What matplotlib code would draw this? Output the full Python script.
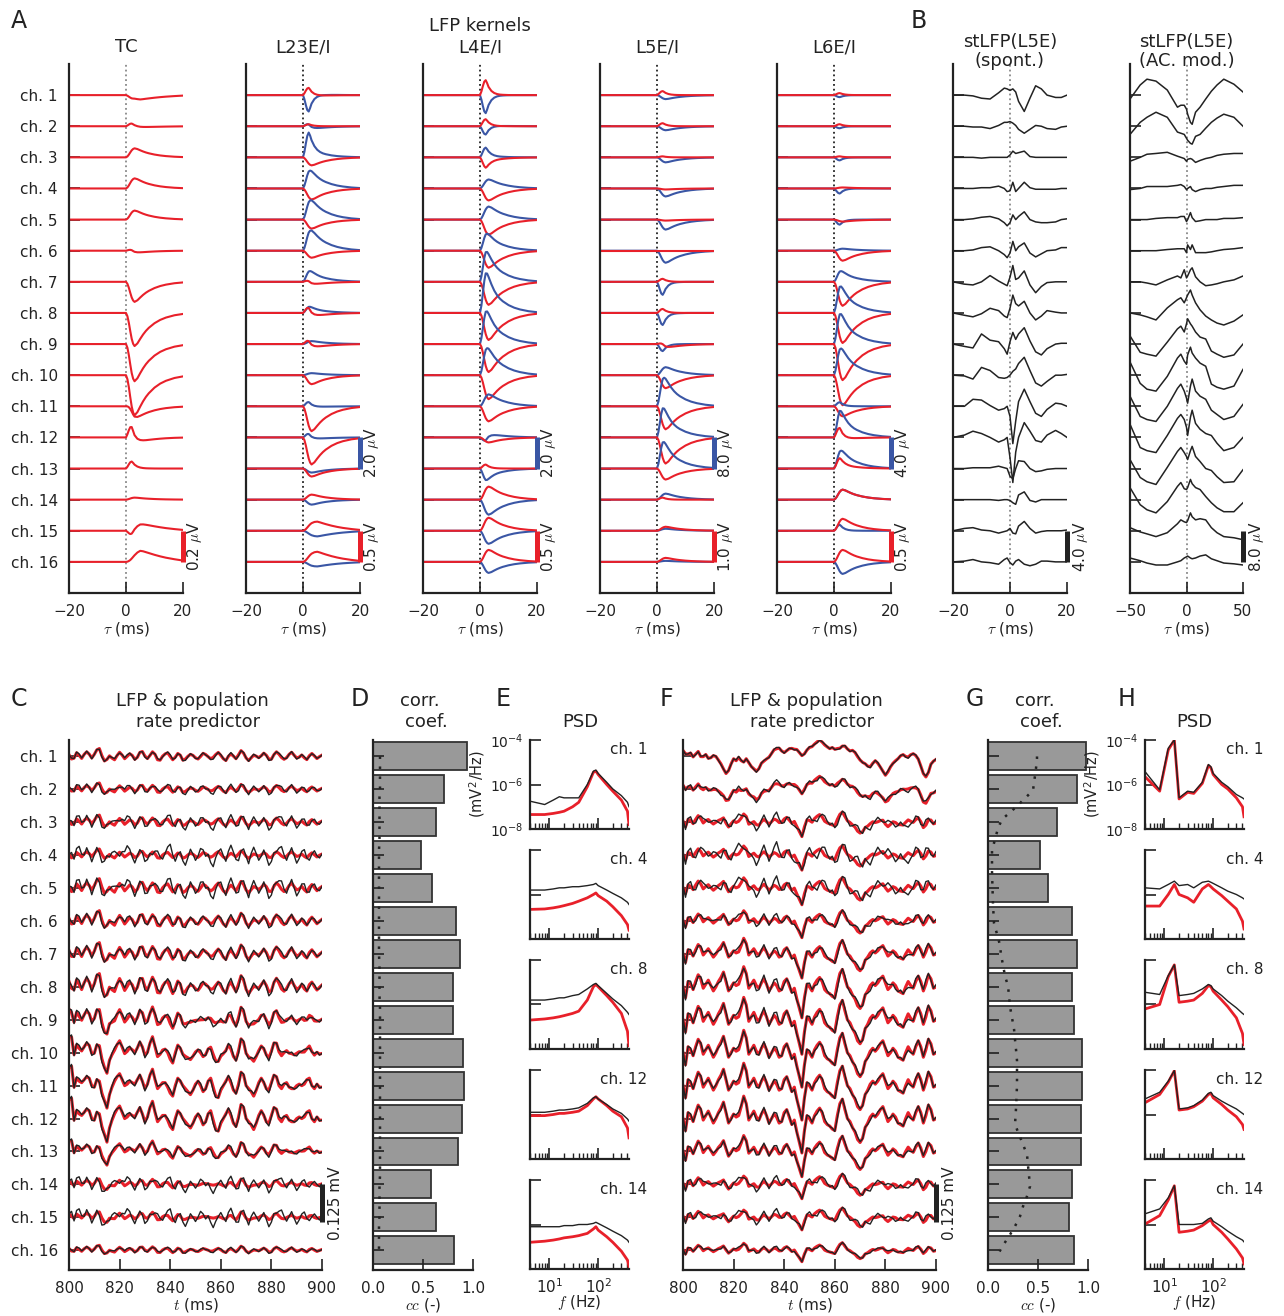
import matplotlib

matplotlib.use("Agg")
import matplotlib.pyplot as plt
import numpy as np
from matplotlib.ticker import NullLocator

plt.rcParams["font.family"] = ["DejaVu Sans"]
plt.rcParams["mathtext.fontset"] = "cm"
plt.rcParams["font.size"] = 11
for key in ["text.color", "axes.labelcolor", "xtick.color", "ytick.color", "axes.edgecolor"]:
    plt.rcParams[key] = "#222222"

RED = "#e8202a"
BLUE = "#3a56a5"
INK = "#222222"

channels = list(range(1, 17))
channel_labels = ["ch. %d" % c for c in channels]

# ---------------- A: LFP kernels (uV) ----------------
kernel_tau = [-20, -1, 0, 0.5, 1, 1.5, 2, 2.5, 3, 4, 5, 6, 7, 8, 10, 12, 14, 17, 20]
fast_shape = [0, 0, 0, 0.25, 0.6, 0.9, 1.0, 0.8, 0.55, 0.28, 0.14, 0.07, 0.035, 0.02, 0.005, 0, 0, 0, 0]
slow_shape = [0, 0, 0, 0.1, 0.3, 0.55, 0.78, 0.93, 1.0, 0.92, 0.78, 0.65, 0.54, 0.45, 0.31, 0.21, 0.14, 0.07, 0.03]
vslow_shape = [0, 0, 0, 0.02, 0.08, 0.17, 0.3, 0.45, 0.6, 0.85, 1.0, 0.96, 0.88, 0.8, 0.64, 0.5, 0.38, 0.24, 0.12]

tc_fast = [-0.013, 0.019, 0, 0, 0, 0.016, 0, 0, 0, 0, 0.032, 0.097, 0.045, 0, -0.032, 0]
tc_slow = [0, 0, 0.058, 0.065, 0.058, -0.016, -0.129, -0.213, -0.239, -0.258, -0.084, -0.039, 0, 0.013, 0, 0]
tc_vslow = [-0.026, -0.006, 0, 0, 0, 0, 0, 0, 0, 0, 0, 0, 0, 0, 0.045, 0.071]

l23_e_fast = [-1.10, 0.26, 1.29, 0.39, 0.26, 0.26, 0.26, 0.19, 0, 0, 0.32, 0.32, 0, 0, 0, 0]
l23_e_slow = [0.06, -0.19, 0.39, 0.90, 1.10, 1.16, 0.52, 0.26, 0.19, 0.13, -0.06, -0.13, -0.26, -0.32, -0.13, -0.13]
l23_e_vslow = [0, 0, 0, 0, 0, 0, 0, 0, 0, 0, 0, 0, 0, 0, -0.26, -0.19]
l23_i_fast = [0.129, 0.032, 0, 0, 0, 0, 0.048, 0.129, 0.097, 0, 0, 0, 0, 0, 0, 0]
l23_i_slow = [-0.016, 0, -0.129, -0.177, -0.145, -0.113, -0.048, -0.064, -0.064, -0.145, -0.40, -0.435, -0.129, 0.081, 0.064, 0.064]
l23_i_vslow = [0, 0, 0, 0, 0, 0, 0, 0, 0, 0, 0, 0, 0, 0, 0.097, 0.113]

l4_e_fast = [-1.16, -0.58, 0.58, 0, 0, 0.39, 0.90, 1.29, 0.97, 0.52, 0, -0.39, -0.39, 0, 0, 0]
l4_e_slow = [0, 0.06, 0.06, 0.58, 0.84, 0.84, 1.29, 1.61, 1.42, 1.42, 0.77, 0.26, -0.45, -0.97, -0.84, -0.71]
l4_i_fast = [0.24, 0.113, -0.129, 0, 0, 0, 0, 0, 0, 0, 0, 0, 0.064, 0, 0, 0]
l4_i_slow = [0, 0, -0.048, -0.193, -0.242, -0.274, -0.37, -0.435, -0.45, -0.386, -0.242, -0.081, 0, 0.21, 0.21, 0.193]

l5_e_fast = [0, 0, 0, 0, 0, 0, -3.35, -3.10, -1.81, 0, 2.58, 3.87, 3.10, 0, 0, 0]
l5_e_slow = [-1.03, -1.03, -1.29, -2.06, -2.58, -3.10, 0, 0, 0, 2.06, 5.68, 4.64, 4.64, 1.55, 0.52, 0.26]
l5_i_fast = [0.129, 0.097, 0.032, 0, 0, 0, 0.097, 0.129, 0.097, 0, 0, 0, 0, 0.065, 0, 0]
l5_i_slow = [0, 0, 0, -0.032, -0.032, 0, 0, 0, -0.129, -0.42, -0.74, -0.84, -0.355, 0, 0.129, 0.129]

l6_e_fast = [-0.26, -0.26, -0.39, -0.65, -0.65, 0, 0.52, 1.55, 1.81, 1.29, 0.52, 1.81, 0.77, 0, 0.77, 0]
l6_e_slow = [0, 0, 0, 0, 0, 0.26, 1.03, 2.32, 2.58, 2.58, 0, 2.06, 1.81, 1.29, 0, -1.55]
l6_i_fast = [0.032, 0.032, 0.016, 0, 0, 0, 0, 0, 0, 0, 0, 0.177, 0.129, 0, 0, 0]
l6_i_slow = [0, 0, 0, 0.016, -0.032, -0.161, -0.386, -0.483, -0.58, -0.483, -0.161, -0.032, 0.048, 0.161, 0.193, 0.193]

kernel_titles = ["TC", "L23E/I", "L4E/I", "L5E/I", "L6E/I"]
kernel_exc_bar_uv = [None, 2.0, 2.0, 8.0, 4.0]
kernel_inh_bar_uv = [0.2, 0.5, 0.5, 1.0, 0.5]

# ---------------- B: spike-triggered LFP (uV) ----------------
spont_tau = [-20, -16, -13, -10, -7, -4, -2, -1, 0, 1, 2, 3, 5, 7, 9, 11, 13, 16, 18, 20]
spont_uv = [
    [0, 0, -0.1, -0.4, -0.5, 0.3, 0.9, 0.8, 0.6, 0.8, 0.4, -0.8, -2.1, -0.4, 1.2, 0.8, 0, -0.3, -0.3, 0],
    [0, 0, -0.1, -0.1, -0.3, 0.1, 0.5, 0.5, 0.6, 0.4, 0.1, -0.4, -0.9, -0.4, 0.1, 0, -0.3, -0.4, -0.1, 0],
    [0, 0, 0, -0.1, 0, 0, 0, 0, 0.3, 0.8, 0.5, 0.6, 0.8, 0.1, 0, 0, 0, 0, 0, 0],
    [0, 0, 0, 0.1, 0.1, 0.3, 0, -0.4, -0.3, 0.8, -0.4, 0, 0.8, 0.1, -0.1, -0.1, -0.1, -0.1, 0, 0],
    [0, 0, 0.1, 0.3, 0.4, 0.1, -0.4, -0.8, -0.4, 0.6, 0, 0.4, 1.0, 0, -0.3, -0.4, -0.4, -0.3, 0, 0.1],
    [0, 0, 0.1, 0.4, 0.5, 0, -0.5, -0.9, -0.3, 1.2, 0, 0.5, 1.0, -0.3, -0.8, -0.4, 0, 0.1, 0.4, 0.4],
    [0, -0.3, -0.4, 0, 0.8, 0.1, -0.3, -0.5, 0.6, 2.1, 0.3, 0.5, 1.4, -0.4, -1.4, -0.6, -0.1, 0, 0, 0],
    [0, -0.3, -0.5, -0.1, 0.6, 0.3, -0.4, -0.6, 0.6, 2.3, 1.2, 0.9, 1.5, 0, -0.9, -0.4, 0.3, 0.1, 0, 0],
    [0, -0.3, -0.5, 1.3, 0.5, 0.3, -0.6, -1.3, 0.3, 1.5, 0.6, 1.3, 2.1, 0.4, -1.0, -1.4, -0.6, 0, 0.1, 0.1],
    [0, -0.1, -0.5, 1.0, 0.6, -0.3, -0.4, -0.3, 0, 0.5, 0.8, 1.5, 2.3, 0.6, -1.0, -1.4, -0.8, 0, 0, 0.1],
    [0, 0, 0.9, 0.8, 0.1, -0.5, -0.3, 0, -1.3, -4.8, -1.9, 0.6, 2.2, 0.6, -0.9, -1.3, -0.4, 0.4, 0.3, 0],
    [0, 0.3, 0.8, 0.5, 0, -0.6, -0.3, 0, -2.6, -5.8, -1.9, 0, 1.9, 0.8, -0.4, -0.6, 0.3, 0.9, 0.5, 0],
    [0, 0, 0.1, 0.1, 0.1, 0.3, 0.1, 0, -1.0, -1.3, 0, 1.0, 0.9, 0, -0.4, -0.3, -0.1, 0, 0, 0],
    [0, 0, 0, 0, 0, -0.1, 0, 0, -0.1, -0.4, -0.6, 0.6, 1.0, -0.1, -0.3, 0, 0, 0, 0, 0],
    [0, 0.3, 0.4, 0.1, 0, -0.3, -0.1, 0, 0.3, -0.3, -0.4, 0.6, 1.2, 0.3, -0.3, -0.1, 0, 0, 0, 0.1],
    [0, 0.1, 0.3, 0, -0.1, -0.3, 0.3, 0.5, -0.1, -0.4, 0.1, 0.3, -0.3, -0.5, -0.3, 0.1, 0.1, 0, 0, 0],
]
ac_tau = [-50, -41, -35, -27, -17, -8, -5, -2, 0, 1, 3.5, 5, 8, 12, 17, 22, 27, 33, 42, 50]
ac_uv = [
    [-1.0, 2.6, 4.1, 3.6, 1.3, -3.1, -2.6, -2.6, -3.6, -4.9, -7.0, -7.5, -4.4, -3.1, -1.0, 1.0, 2.6, 4.1, 2.8, 0.8],
    [-2.1, 1.0, 2.3, 3.6, 2.3, -1.5, -1.8, -2.1, -3.1, -3.6, -4.4, -4.6, -2.6, -2.1, -0.5, 1.0, 2.1, 3.1, 2.3, 0],
    [-1.0, 0, 0.8, 1.0, 1.3, 0.3, 0, -0.3, -1.0, -0.5, -0.3, -0.5, -1.3, -0.8, -0.3, 0, 0.5, 0.8, 1.0, 1.0],
    [-0.3, 0, 0.5, 0.5, 0.5, 0.8, 1.0, 0.5, -0.3, 0, 0.5, -0.3, -0.8, -0.3, 0, 0, 0.3, 0.5, 0.8, 0.8],
    [0, 0, 0, 0.3, 0.5, 0.5, 0.8, 0.8, -0.5, 0, 1.8, 0.5, -0.5, -0.3, 0, 0, 0, 0.3, 0.3, 0.5],
    [0, 0, 0, 0, 0.3, 0.5, 0.5, 0.5, -0.5, 1.5, 0.3, 1.5, -0.5, -0.5, -0.5, -0.3, 0, 0.3, 0.5, 0.8],
    [0, 0, -0.3, -0.8, 0.5, 1.5, 1.0, 3.1, 1.0, 1.5, 3.1, 3.6, 1.3, 0, -1.0, -0.8, -0.5, 0, 0.5, 1.5],
    [0, -0.5, -1.0, -1.8, 1.3, 3.4, 3.9, 2.6, 3.9, 4.6, 5.9, 4.6, 2.6, 0.8, -0.8, -1.8, -2.6, -3.1, -2.1, -0.5],
    [2.1, -2.1, -2.6, -3.1, 0.5, 3.9, 4.6, 3.1, 5.2, 6.5, 5.2, 4.6, 3.1, 1.8, 1.3, -1.8, -2.6, -3.4, -2.8, 0],
    [3.4, -2.1, -3.6, -4.1, -0.3, 4.4, 5.4, 3.6, 2.8, 5.2, 7.2, 5.7, 4.4, 3.1, 2.3, -2.3, -3.1, -3.6, -2.8, 1.5],
    [2.6, -2.6, -3.4, -3.9, 0, 4.6, 5.7, 3.9, 2.1, 0.8, 5.2, 7.0, 3.9, 2.6, 1.8, -1.0, -2.1, -3.4, -2.6, 0.5],
    [3.4, -2.6, -3.4, -3.9, 0.5, 4.9, 5.9, 4.6, 2.6, 0.5, 5.2, 7.0, 3.6, 2.1, 1.0, 0.5, -1.5, -3.4, -2.6, 0],
    [2.3, -2.3, -3.4, -4.1, 0.3, 4.4, 5.4, 4.1, 3.1, 2.3, 4.6, 5.7, 3.1, 1.8, 0, -0.5, -2.1, -3.6, -3.4, -0.3],
    [3.1, -1.3, -2.6, -3.4, -0.5, 3.4, 4.4, 2.8, 2.6, 3.1, 5.2, 4.1, 3.1, 2.6, 0.8, -0.8, -2.1, -3.1, -3.1, -0.8],
    [0.8, -0.3, -0.8, -1.5, -0.5, 1.8, 2.8, 2.3, 2.1, 2.6, 4.6, 3.6, 2.8, 3.1, 2.8, 0.8, -0.5, -1.5, -1.8, -2.3],
    [1.0, 0.3, -0.3, -0.8, -0.8, 0, 0.3, 1.0, 1.3, 1.5, 1.0, 0.8, 1.0, 1.5, 1.8, 0.8, 0.3, -0.3, -0.5, -0.8],
]
spont_bar_uv = 4.0
ac_bar_uv = 8.0

# ---------------- C/F: LFP and predictor (uV), t = 800..900 ms ----------------
t_ms = np.arange(800, 901)
c_upper = [0, -30, -10, 20, 5, -15, 10, 25, 10, -10,
           15, 40, 50, 10, -20, -5, 10, -10, -25, 0,
           20, 5, -15, 0, 15, 5, -20, -10, 20, 30,
           5, -15, 0, 20, 10, -20, -25, 0, 15, 25,
           5, -15, -5, 15, 5, -25, -15, 5, 20, 10,
           -10, -20, 0, 25, 15, -5, -20, -5, 20, 35,
           10, -15, -30, -5, 15, 5, -10, 10, 30, 15,
           -10, -25, -5, 15, 5, -10, 0, 20, 10, -15,
           -20, 5, 25, 15, -5, -20, -10, 15, 30, 10,
           -10, -5, 10, -10, -25, 0, 20, 5, -15, 0, 10]
c_lower = [60, 65, -5, 25, 15, 10, 20, 30, 25, 0,
           -5, 20, 15, -25, -50, -75, -30, -5, 15, 30,
           40, 20, 0, 5, 15, 10, 5, 20, 35, 15,
           -10, 5, 35, 55, 20, -10, 0, 10, 10, -5,
           -25, -35, 0, 25, 15, 0, -10, -20, -30, -15,
           5, 15, 0, -20, -10, 15, 25, -5, -35, -40,
           -15, 0, 15, 30, 10, -15, -25, 5, 45, 35,
           0, -10, -20, -35, -15, 10, 25, 10, -10, -15,
           10, 35, 30, 0, -10, 5, 10, -5, -10, -10,
           0, 5, 0, 5, 20, 25, 0, -10, 5, -5, -5]
c_resid = [0, 20, -10, 15, 30, 10, -5, 15, 0, -20,
           -5, 10, -15, -30, -10, 5, -10, 15, 25, 5,
           -15, 10, 20, 35, 15, -10, -20, 0, 10, -5,
           -25, -10, 5, -10, 10, 25, 5, -15, 0, 20,
           40, 10, -20, -5, 10, -10, -30, -10, 15, 0,
           -15, 5, 25, 10, -10, 5, -20, -40, -15, 0,
           20, 5, -10, 15, 30, 10, -10, -25, 0, 15,
           0, -20, 10, 25, 5, -15, -5, 10, -10, -30,
           -15, 5, 0, 20, 35, 10, -15, 0, 15, -5,
           -25, -10, 10, 25, 0, -20, -5, 15, 5, -10, 0]
c_gain_upper = [0.5, 0.4, 0.45, 0.4, 0.6, 0.65, 0.7, 0.8, 0.5, 0.2, 0.0, 0.0, 0.1, 0.3, 0.3, 0.3]
c_gain_lower = [0.1, 0.1, 0.1, 0.05, 0.1, 0.15, 0.2, 0.3, 0.6, 0.9, 1.0, 1.05, 0.6, 0.2, 0.2, 0.1]
c_gain_resid = [0.15, 0.35, 0.6, 0.9, 0.8, 0.35, 0.35, 0.45, 0.45, 0.35, 0.3, 0.3, 0.3, 0.7, 0.8, 0.15]

f_slow = [20, 15, 5, 10, 0, 5, 10, -5, 0, 5,
          -10, -5, 5, 0, -15, -30, -50, -60, -45, -25,
          -10, -15, -5, -20, -30, -15, -20, -35, -45, -50,
          -40, -25, -20, -10, 0, 10, 20, 25, 30, 20,
          10, 15, 25, 30, 25, 30, 25, 20, 15, 20,
          30, 35, 40, 45, 50, 45, 40, 35, 30, 35,
          30, 25, 20, 25, 30, 25, 20, 25, 20, 10,
          0, -10, -20, -30, -35, -25, -15, -25, -40, -55,
          -65, -50, -35, -25, -15, -5, 5, 10, 0, -5,
          5, 10, 0, -15, -35, -55, -70, -60, -30, -15, -10]
f_fast = [0, -40, 20, 10, -10, 20, 45, 30, -5, 10,
          25, 5, -15, 0, 20, 35, 55, 20, -15, 0,
          15, 5, 10, 40, 75, 50, -5, 10, 25, 5,
          -5, 15, 30, 10, -15, 0, 15, 5, -15, -10,
          20, 30, 5, -20, -5, -45, -80, -115, -40, 10,
          0, -15, 10, 25, 35, 20, -10, -20, -25, -35,
          -40, 10, 50, 65, 30, 0, -10, -30, -45, -70,
          -80, -65, -30, -15, 5, 15, 5, 15, 30, 40,
          15, -10, 0, 15, 5, -15, -20, -25, 0, 20,
          5, -5, 20, 40, 20, -15, 10, 45, 30, -5, 0]
f_resid = [10, -15, 5, 20, 0, -20, -10, 15, 25, 5,
           -15, 0, 20, 10, -10, -25, -5, 15, 5, -15,
           0, 25, 40, 15, -10, -5, 15, 0, -20, -35,
           -10, 10, 25, 5, -15, 0, 20, 45, 20, -5,
           -20, 0, 15, -5, -25, -10, 10, 0, -15, 5,
           25, 10, -10, -30, -10, 15, 30, 10, -5, 10,
           -10, -30, -15, 5, 20, 0, -20, -5, 15, 30,
           10, -10, 5, -15, -35, -15, 10, 25, 5, -10,
           10, 35, 15, -10, -25, -5, 15, 0, -20, -40,
           -15, 5, 20, 5, -15, 10, 30, 10, -10, 0, 15]
f_gain_slow = [1.0, 0.7, 0.2, 0.1, 0.1, 0.1, 0, 0, 0, 0, 0, 0, 0.1, 0.2, 0.2, 0.1]
f_gain_fast = [0.15, 0.25, 0.45, 0.45, 0.5, 0.5, 0.7, 0.9, 1.0, 1.0, 1.0, 1.0, 0.75, 0.45, 0.4, 0.35]
f_gain_resid = [0.1, 0.3, 0.6, 0.9, 0.8, 0.45, 0.4, 0.5, 0.45, 0.3, 0.3, 0.3, 0.3, 0.5, 0.5, 0.2]
lfp_row_uv = 110.0
lfp_bar_mv = 0.125

# ---------------- D/G: correlation coefficients ----------------
cc_spont = [0.94, 0.71, 0.63, 0.48, 0.59, 0.83, 0.87, 0.80, 0.80, 0.90, 0.91, 0.89, 0.85, 0.58, 0.63, 0.81]
cc_ac = [0.977, 0.893, 0.687, 0.52, 0.603, 0.837, 0.887, 0.843, 0.863, 0.94, 0.94, 0.93, 0.93, 0.835, 0.81, 0.855]
cc_dot_rows = [1.0, 1.06, 1.36, 2.03, 2.24, 2.48, 2.70, 2.91, 3.18, 3.52, 3.85, 4.5, 5.5, 6.06, 6.73, 7.03, 7.33,
               7.67, 7.97, 8.27, 8.6, 8.94, 9.27, 9.6, 9.9, 10.24, 11.0, 11.7, 12.18, 12.48, 12.79, 13.09, 13.42,
               13.73, 14.06, 14.36, 14.67, 14.97, 15.27, 15.58, 15.85, 16.12]
cc_spont_dot = [0.07, 0.07, 0.07, 0.07, 0.065, 0.065, 0.065, 0.065, 0.065, 0.065, 0.06, 0.06, 0.06, 0.06, 0.06,
                0.06, 0.065, 0.065, 0.065, 0.065, 0.07, 0.07, 0.07, 0.07, 0.07, 0.07, 0.07, 0.07, 0.07, 0.07,
                0.07, 0.07, 0.07, 0.07, 0.065, 0.065, 0.065, 0.065, 0.06, 0.06, 0.06, 0.06]
cc_ac_dot = [0.49, 0.49, 0.48, 0.45, 0.38, 0.30, 0.22, 0.14, 0.10, 0.07, 0.04, 0.04, 0.05, 0.06, 0.12, 0.13,
             0.15, 0.17, 0.20, 0.21, 0.22, 0.24, 0.26, 0.27, 0.28, 0.29, 0.29, 0.28, 0.27, 0.31, 0.35, 0.39,
             0.40, 0.41, 0.42, 0.39, 0.35, 0.32, 0.27, 0.21, 0.15, 0.10]

# ---------------- E/H: PSD (log10 mV^2/Hz) ----------------
psd_channels = [1, 4, 8, 12, 14]
psd_freqs = [4, 8, 12, 16, 20, 30, 40, 60, 80, 90, 100, 150, 200, 300, 400, 430]
psd_spont_lfp = [
    [-6.75, -6.9, -6.7, -6.55, -6.6, -6.6, -6.6, -6.0, -5.4, -5.35, -5.5, -5.9, -6.2, -6.5, -6.8, -7.0],
    [-5.8, -5.8, -5.75, -5.7, -5.7, -5.65, -5.65, -5.6, -5.55, -5.5, -5.6, -5.8, -5.95, -6.15, -6.35, -6.45],
    [-5.8, -5.8, -5.75, -5.7, -5.7, -5.6, -5.55, -5.3, -5.1, -5.05, -5.15, -5.5, -5.75, -6.05, -6.35, -6.45],
    [-5.9, -5.9, -5.85, -5.8, -5.8, -5.75, -5.7, -5.5, -5.25, -5.2, -5.3, -5.55, -5.75, -5.95, -6.2, -6.3],
    [-6.1, -6.1, -6.1, -6.1, -6.05, -6.05, -6.0, -6.0, -5.95, -5.9, -5.95, -6.15, -6.3, -6.5, -6.7, -6.8],
]
psd_spont_pred = [
    [-7.35, -7.35, -7.3, -7.25, -7.2, -7.0, -6.8, -6.1, -5.45, -5.4, -5.55, -6.0, -6.3, -6.7, -7.2, -7.8],
    [-6.67, -6.65, -6.6, -6.55, -6.5, -6.4, -6.3, -6.15, -6.0, -5.93, -6.05, -6.3, -6.55, -6.95, -7.35, -7.6],
    [-6.7, -6.65, -6.6, -6.55, -6.5, -6.4, -6.3, -5.8, -5.2, -5.1, -5.2, -5.6, -5.9, -6.4, -7.2, -7.85],
    [-6.05, -6.05, -6.0, -5.95, -5.95, -5.9, -5.85, -5.6, -5.3, -5.2, -5.3, -5.6, -5.85, -6.1, -6.6, -7.05],
    [-6.8, -6.75, -6.7, -6.65, -6.6, -6.55, -6.5, -6.4, -6.2, -6.1, -6.25, -6.55, -6.8, -7.2, -7.6, -7.9],
]
psd_ac_lfp = [
    [-5.42, -6.24, -4.37, -4.0, -6.6, -6.3, -6.35, -5.9, -5.1, -5.2, -5.5, -5.9, -6.1, -6.45, -6.6, -6.65],
    [-5.7, -5.75, -5.55, -5.4, -5.6, -5.55, -5.7, -5.45, -5.4, -5.45, -5.5, -5.7, -5.85, -6.0, -6.15, -6.2],
    [-5.45, -5.55, -4.7, -4.22, -5.6, -5.55, -5.5, -5.3, -5.1, -5.15, -5.3, -5.6, -5.85, -6.15, -6.4, -6.45],
    [-5.3, -5.0, -4.5, -4.03, -5.75, -5.7, -5.6, -5.35, -5.05, -5.0, -5.15, -5.4, -5.55, -5.75, -5.95, -6.0],
    [-5.52, -5.3, -4.8, -4.26, -6.0, -6.0, -6.0, -5.95, -5.75, -5.7, -5.85, -6.1, -6.3, -6.55, -6.7, -6.78],
]
psd_ac_pred = [
    [-5.65, -6.3, -4.45, -4.0, -6.65, -6.35, -6.4, -5.95, -5.15, -5.25, -5.55, -6.0, -6.2, -6.6, -7.0, -7.45],
    [-6.52, -6.52, -6.0, -5.55, -6.0, -6.15, -6.35, -5.75, -5.55, -5.65, -5.75, -6.05, -6.3, -6.65, -7.2, -7.55],
    [-6.2, -6.0, -4.75, -4.22, -5.9, -5.85, -5.8, -5.5, -5.15, -5.2, -5.4, -5.8, -6.1, -6.6, -7.3, -7.8],
    [-5.47, -5.1, -4.55, -4.03, -5.8, -5.75, -5.65, -5.4, -5.1, -5.05, -5.25, -5.55, -5.8, -6.1, -6.45, -6.67],
    [-5.98, -5.6, -4.9, -4.26, -6.35, -6.3, -6.25, -6.05, -5.85, -5.8, -6.0, -6.35, -6.65, -7.1, -7.5, -7.77],
]

# ---------------- figure ----------------
W, H = 1284, 1316
fig = plt.figure(figsize=(W / 100, H / 100), dpi=100)


def add_ax(x0, y0, x1, y1):
    return fig.add_axes([x0 / W, 1 - y1 / H, (x1 - x0) / W, (y1 - y0) / H])


def ftext(x, y, s, **kw):
    kw.setdefault("ha", "center")
    kw.setdefault("va", "baseline")
    fig.text(x / W, 1 - y / H, s, **kw)


def style(ax):
    ax.spines["top"].set_visible(False)
    ax.spines["right"].set_visible(False)
    ax.spines["left"].set_linewidth(1.6)
    ax.spines["bottom"].set_linewidth(1.6)
    ax.tick_params(which="major", direction="in", length=8, width=1.2, labelsize=11)
    ax.tick_params(axis="x", pad=8)
    ax.tick_params(axis="y", pad=8)


def scale_bar(ax, x, y0, y1, color, label, offset=8):
    ax.plot([x, x], [y0, y1], color=color, lw=3.6, solid_capstyle="butt", clip_on=False, zorder=6)
    ax.annotate(label, xy=(x, (y0 + y1) / 2), xytext=(offset, 0), textcoords="offset points",
                rotation=90, ha="center", va="center", fontsize=11)


def row_axes(ax, xlim, xticks, ylim, labels):
    style(ax)
    ax.set_xlim(*xlim)
    ax.set_ylim(*ylim)
    ax.set_xticks(xticks)
    ax.set_yticks(channels)
    if labels:
        ax.set_yticklabels(channel_labels)
    else:
        ax.set_yticklabels([])


# A: kernels
kernel_exc = [None,
              (l23_e_fast, l23_e_slow, l23_e_vslow),
              (l4_e_fast, l4_e_slow, None),
              (l5_e_fast, l5_e_slow, None),
              (l6_e_fast, l6_e_slow, None)]
kernel_inh = [(tc_fast, tc_slow, tc_vslow),
              (l23_i_fast, l23_i_slow, l23_i_vslow),
              (l4_i_fast, l4_i_slow, None),
              (l5_i_fast, l5_i_slow, None),
              (l6_i_fast, l6_i_slow, None)]
shapes = [np.array(fast_shape), np.array(slow_shape), np.array(vslow_shape)]


def kernel(coefs, i):
    out = np.zeros(len(kernel_tau))
    for c, shp in zip(coefs, shapes):
        if c is not None:
            out = out + c[i] * shp
    return out


for k, title in enumerate(kernel_titles):
    x0 = 69 + 177 * k
    ax = add_ax(x0, 64, x0 + 114, 593)
    row_axes(ax, (-20, 20), [-20, 0, 20], (17, 0), k == 0)
    ax.axvline(0, color="#888888" if k == 0 else INK, ls=":", lw=1.3, zorder=1)
    for i, ch in enumerate(channels):
        if kernel_exc[k] is not None:
            ax.plot(kernel_tau, ch - kernel(kernel_exc[k], i) / kernel_exc_bar_uv[k], color=BLUE, lw=1.5)
        ax.plot(kernel_tau, ch - kernel(kernel_inh[k], i) / kernel_inh_bar_uv[k], color=RED, lw=1.5)
    if kernel_exc_bar_uv[k] is not None:
        scale_bar(ax, 20, 12, 13, BLUE, "%.1f $\\mu$V" % kernel_exc_bar_uv[k])
    scale_bar(ax, 20, 15, 16, RED, "%.1f $\\mu$V" % kernel_inh_bar_uv[k])
    ax.set_xlabel("$\\tau$ (ms)", labelpad=1)
    ftext(x0 + 57, 52, title, fontsize=13)
ftext(480, 31, "LFP kernels", fontsize=13)

# B: stLFP
for x0, x1, taus, traces, bar, lim, ticks, sub in [
    (953, 1067, spont_tau, spont_uv, spont_bar_uv, (-20, 20), [-20, 0, 20], "(spont.)"),
    (1130, 1243, ac_tau, ac_uv, ac_bar_uv, (-50, 50), [-50, 0, 50], "(AC. mod.)"),
]:
    ax = add_ax(x0, 64, x1, 593)
    row_axes(ax, lim, ticks, (17, 0), False)
    ax.axvline(0, color="#888888", ls=":", lw=1.3, zorder=1)
    for i, ch in enumerate(channels):
        ax.plot(taus, ch - np.array(traces[i]) / bar, color=INK, lw=1.1)
    scale_bar(ax, lim[1], 15, 16, INK, "%.1f $\\mu$V" % bar, offset=10)
    ax.set_xlabel("$\\tau$ (ms)", labelpad=1)
    ftext((x0 + x1) / 2, 47, "stLFP(L5E)", fontsize=13)
    ftext((x0 + x1) / 2, 66, sub, fontsize=13)


# C/F: LFP traces
def lfp_panel(x0, bases, gains, resid, resid_gain, labels):
    ax = add_ax(x0, 740, x0 + 253, 1270)
    row_axes(ax, (800, 900), [800, 820, 840, 860, 880, 900], (16.6, 0.5), labels)
    for i, ch in enumerate(channels):
        pred = sum(g[i] * np.array(b) for g, b in zip(gains, bases))
        lfp = pred + resid_gain[i] * np.array(resid)
        ax.plot(t_ms, ch - pred / lfp_row_uv, color=RED, lw=2.2)
        ax.plot(t_ms, ch - lfp / lfp_row_uv, color=INK, lw=1.0)
    scale_bar(ax, 900, 14, 14 + lfp_bar_mv * 1000 / lfp_row_uv, INK, "%.3f mV" % lfp_bar_mv, offset=10)
    ax.set_xlabel("$t$ (ms)", labelpad=0)
    return ax


lfp_panel(69, [c_upper, c_lower], [c_gain_upper, c_gain_lower], c_resid, c_gain_resid, True)
lfp_panel(683, [f_slow, f_fast], [f_gain_slow, f_gain_fast], f_resid, f_gain_resid, False)


# D/G: correlation bars
def cc_panel(x0, values, dots):
    ax = add_ax(x0, 740, x0 + 100, 1270)
    row_axes(ax, (0, 1), [0, 0.5, 1.0], (16.6, 0.5), False)
    ax.set_xticklabels(["0.0", "0.5", "1.0"])
    ax.barh(channels, values, height=0.85, color="#999999", edgecolor="#333333", lw=1.3, zorder=1)
    ax.plot(dots, cc_dot_rows, color=INK, lw=1.8, ls=(0, (1, 3)), zorder=3)
    ax.set_xlabel("$cc$ (-)", labelpad=0)


cc_panel(373, cc_spont, cc_spont_dot)
cc_panel(988, cc_ac, cc_ac_dot)


# E/H: PSDs
def psd_panel(x0, lfp, pred, label_x):
    tops = [740, 850, 960, 1070, 1180]
    for j, top in enumerate(tops):
        ax = add_ax(x0, top, x0 + 99, top + 89)
        style(ax)
        ax.set_xscale("log")
        ax.set_yscale("log")
        ax.set_xlim(4, 430)
        ax.set_ylim(1e-8, 1e-4)
        ax.set_yticks([1e-8, 1e-6, 1e-4])
        ax.yaxis.set_minor_locator(NullLocator())
        ax.tick_params(which="minor", direction="in", length=4, width=1.0)
        ax.tick_params(axis="y", labelsize=10, pad=5)
        ax.plot(psd_freqs, 10 ** np.array(pred[j]), color=RED, lw=2.0)
        ax.plot(psd_freqs, 10 ** np.array(lfp[j]), color=INK, lw=1.0)
        if j > 0:
            ax.set_yticklabels([])
        if j < len(tops) - 1:
            ax.tick_params(axis="x", which="both", labelbottom=False)
        else:
            ax.tick_params(axis="x", pad=6)
            ax.set_xlabel("$f$ (Hz)", labelpad=-2)
        ftext(label_x, top + 14, "ch. %d" % psd_channels[j], ha="right", fontsize=11)


psd_panel(530, psd_spont_lfp, psd_spont_pred, 647)
psd_panel(1145, psd_ac_lfp, psd_ac_pred, 1263)
for x in (477, 1092):
    ftext(x, 784, "(mV$^\\mathdefault{2}$/Hz)", rotation=90, va="center", fontsize=10.5)

# titles
for x0 in (69, 683):
    ftext(x0 + 123, 706, "LFP & population", fontsize=13)
    ftext(x0 + 129, 727, "rate predictor", fontsize=13)
for x0 in (373, 988):
    ftext(x0 + 47, 706, "corr.", fontsize=13)
    ftext(x0 + 53, 727, "coef.", fontsize=13)
ftext(580, 727, "PSD", fontsize=13)
ftext(1194, 727, "PSD", fontsize=13)

for letter, x, y in [("A", 18.5, 28), ("B", 919, 28), ("C", 19, 706), ("D", 360, 706),
                     ("E", 503, 706), ("F", 666, 706), ("G", 975, 706), ("H", 1127, 706)]:
    ftext(x, y, letter, fontsize=17)

fig.savefig("out.png", dpi=100)
